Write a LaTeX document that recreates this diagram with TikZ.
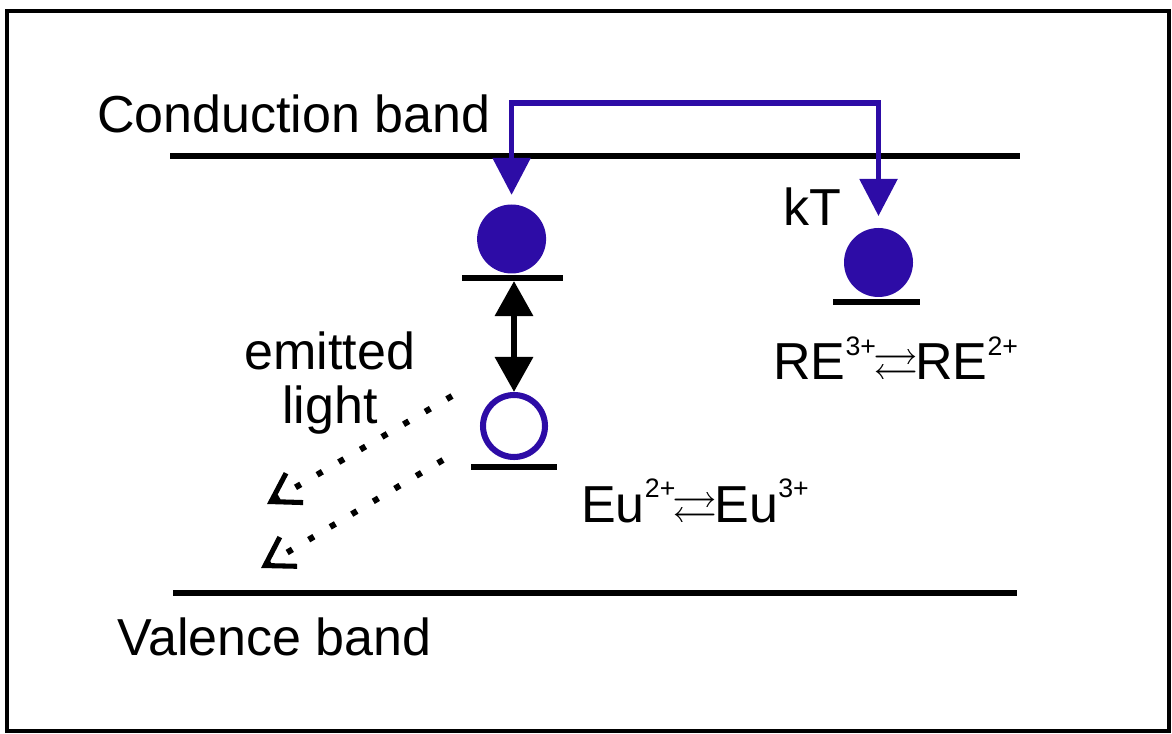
\documentclass[tikz,border=0pt]{standalone}
\usepackage{fontspec}
\setmainfont{Liberation Sans}
\usepackage{amsmath, amssymb}
\usepackage{xcolor}
\usetikzlibrary{arrows.meta}
\definecolor{electron-blue}{HTML}{2D0CA6}
\definecolor{jet}{HTML}{000000}
\newcommand{\ionup}[1]{\raisebox{0.48em}{\fontsize{19}{19}\selectfont #1}}
\newcommand{\ionarrows}{\kern-2pt{\fontsize{32}{32}\selectfont$\rightleftarrows$}\kern-2pt}

\begin{document}
\begin{tikzpicture}[every node/.style={font=\fontsize{37}{38.4}\selectfont, inner sep=0pt},
  band/.style={line width=4.3pt, color=jet},
  level/.style={fill=jet, minimum height=4.3pt, outer sep=0pt},
  electron/.style={circle, fill=electron-blue, minimum size=1.725cm, outer sep=0pt},
  hole/.style={circle, draw=electron-blue, line width=4.3pt, minimum size=1.55cm},
  transfer/.style={line width=3.9pt, color=electron-blue,
    {Triangle[length=0.925cm, width=0.925cm]}-{Triangle[length=0.925cm, width=0.925cm]}},
  excite/.style={line width=4.6pt, color=jet,
    {Triangle[length=0.875cm, width=0.925cm]}-{Triangle[length=0.875cm, width=0.925cm]}},
  photon/.style={line width=4.3pt, color=jet, dash pattern=on 4.3pt off 13.5pt,
    -{Straight Barb[length=0.68cm, width=0.85cm, line width=3.6pt, sharp]}}]
  \useasboundingbox (0,0) rectangle (29.3,18.325);
  \draw[line width=2.85pt] (0.175,0.05) rectangle (29.225,18.05);
  % bands
  \draw[band] (4.25,14.425) -- (25.5,14.425);
  \draw[band] (4.325,3.5) -- (25.425,3.5);
  \node[anchor=base west] (cb) at (2.425,15.0) {Conduction band};
  \node[anchor=base west] (vb) at (2.925,1.95) {Valence band};
  % Eu site
  \node[electron] (eu) at (12.79,12.35) {};
  \node[level, minimum width=2.525cm] (eutop) at (12.8125,11.375) {};
  \node[hole] (euhole) at (12.85,7.675) {};
  \node[level, minimum width=2.15cm] (eubot) at (12.85,6.65) {};
  \node[anchor=base west] (euion) at (14.525,5.275) {Eu\ionup{2+}\ionarrows Eu\ionup{3+}};
  % RE site
  \node[electron] (re) at (21.9625,11.7625) {};
  \node[level, minimum width=2.175cm] (relevel) at (21.9125,10.775) {};
  \node[anchor=base west] (kt) at (19.59,12.675) {kT};
  \node[anchor=base west] (reion) at (19.325,8.825) {RE\ionup{3+}\ionarrows RE\ionup{2+}};
  % transfer via the conduction band
  \coordinate (hop) at (17.0,15.75);
  \draw[transfer, shorten <=0.24cm, shorten >=0.3cm] (eu.north) |- (hop) -| (re.north);
  \draw[excite] (eutop.south -| euhole.north) -- (euhole.north);
  % emitted light
  \node[align=center] (light) at (8.25,8.75) {emitted\\light};
  \coordinate (glow1) at (11.3,8.425);
  \coordinate (out1) at (6.675,5.725);
  \coordinate (glow2) at (11.075,6.825);
  \coordinate (out2) at (6.525,4.125);
  \draw[photon] (glow1) -- (out1);
  \draw[photon] (glow2) -- (out2);
\end{tikzpicture}
\end{document}
